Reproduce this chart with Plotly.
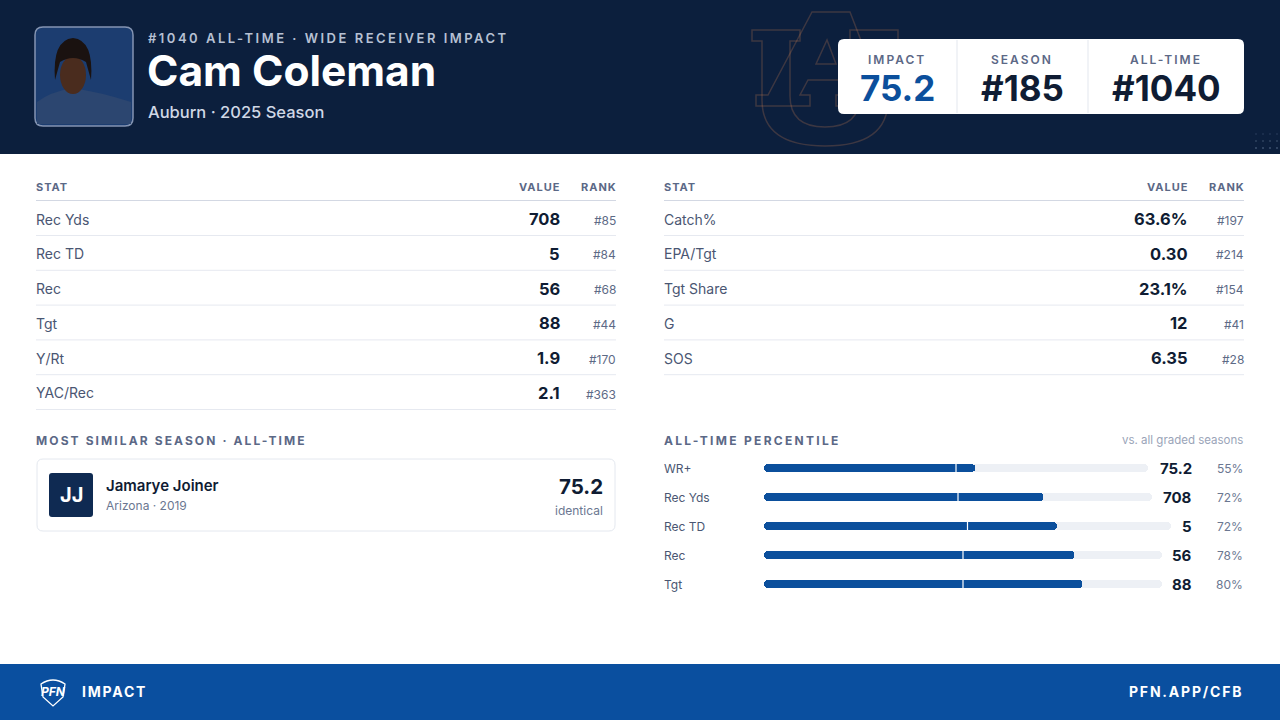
import plotly.graph_objects as go

# ---------------- data ----------------
player_name = "Cam Coleman"
eyebrow = "#1040 ALL-TIME · WIDE RECEIVER IMPACT"
subtitle = "Auburn · 2025 Season"
score_labels = ["IMPACT", "SEASON", "ALL-TIME"]
score_values = ["75.2", "#185", "#1040"]

left_stats = ["Rec Yds", "Rec TD", "Rec", "Tgt", "Y/Rt", "YAC/Rec"]
left_vals = ["708", "5", "56", "88", "1.9", "2.1"]
left_ranks = [85, 84, 68, 44, 170, 363]

right_stats = ["Catch%", "EPA/Tgt", "Tgt Share", "G", "SOS"]
right_vals = ["63.6%", "0.30", "23.1%", "12", "6.35"]
right_ranks = [197, 214, 154, 41, 28]

similar_name = "Jamarye Joiner"
similar_initials = "JJ"
similar_meta = "Arizona · 2019"
similar_score = "75.2"
similar_note = "identical"

pct_labels = ["WR+", "Rec Yds", "Rec TD", "Rec", "Tgt"]
pct_values = ["75.2", "708", "5", "56", "88"]
pct_pcts = [55, 72, 72, 78, 80]
median_pct = 50

# ---------------- style ----------------
W, H = 1280, 720
FONT = "Inter"
NAVY = "#0c1f3d"
BLUE = "#0b4f9c"
INK = "#0f1c33"
LABEL = "#5b6886"
TEXT = "#4a5672"
MUTED = "#6b7791"
LINE = "#e6e9f0"
track_len_px = [384, 388, 407, 398, 398]   # per-row track length (layout)


def px(x):
    return x / W


def py(y):
    return 1 - y / H


shapes = []
annotations = []


def rrect(x0, y0, x1, y1, r, fill, line_color=None, line_width=0, layer="below"):
    p = (f"M {px(x0+r)},{py(y0)} L {px(x1-r)},{py(y0)} Q {px(x1)},{py(y0)} {px(x1)},{py(y0+r)} "
         f"L {px(x1)},{py(y1-r)} Q {px(x1)},{py(y1)} {px(x1-r)},{py(y1)} "
         f"L {px(x0+r)},{py(y1)} Q {px(x0)},{py(y1)} {px(x0)},{py(y1-r)} "
         f"L {px(x0)},{py(y0+r)} Q {px(x0)},{py(y0)} {px(x0+r)},{py(y0)} Z")
    shapes.append(dict(type="path", xref="paper", yref="paper", path=p, fillcolor=fill,
                       line=dict(color=line_color or fill, width=line_width), layer=layer))


def rect(x0, y0, x1, y1, fill, layer="below"):
    shapes.append(dict(type="rect", xref="paper", yref="paper", x0=px(x0), x1=px(x1),
                       y0=py(y1), y1=py(y0), fillcolor=fill, line=dict(width=0), layer=layer))


def hline(x0, x1, y, color, width=1):
    shapes.append(dict(type="line", xref="paper", yref="paper", x0=px(x0), x1=px(x1),
                       y0=py(y), y1=py(y), line=dict(color=color, width=width), layer="below"))


def vline(x, y0, y1, color, width=1):
    shapes.append(dict(type="line", xref="paper", yref="paper", x0=px(x), x1=px(x),
                       y0=py(y0), y1=py(y1), line=dict(color=color, width=width), layer="above"))


def pathpx(cmds, color, width=1.5, fill=None):
    out = []
    for c in cmds:
        if c[0] == "Z":
            out.append("Z")
        elif c[0] == "Q":
            out.append(f"Q {px(c[1])},{py(c[2])} {px(c[3])},{py(c[4])}")
        else:
            out.append(f"{c[0]} {px(c[1])},{py(c[2])}")
    shapes.append(dict(type="path", xref="paper", yref="paper", path=" ".join(out),
                       fillcolor=fill or "rgba(0,0,0,0)", line=dict(color=color, width=width),
                       layer="below"))


def text(x, y, s, size, color, weight=400, anchor="left", spacing=None, family=FONT):
    if spacing:
        s = f'<span style="letter-spacing:{spacing}px">{s}</span>'
    annotations.append(dict(x=px(x), y=py(y), xref="paper", yref="paper", text=s,
                            showarrow=False, xanchor=anchor, yanchor="middle",
                            borderpad=0, borderwidth=0,
                            font=dict(family=family, size=size, color=color, weight=weight)))


# ---------------- header ----------------
rect(0, 0, W, 154, NAVY)

# faint Auburn AU watermark
wm = "rgba(200,125,80,0.26)"
pathpx([("M", 752, 30), ("L", 800, 30), ("L", 800, 41), ("L", 790, 41), ("L", 790, 96),
        ("Q", 790, 127, 825, 127), ("Q", 860, 127, 860, 96), ("L", 860, 41), ("L", 850, 41),
        ("L", 850, 30), ("L", 898, 30), ("L", 898, 41), ("L", 888, 41), ("L", 888, 100),
        ("Q", 888, 146, 825, 146), ("Q", 762, 146, 762, 100), ("L", 762, 41), ("L", 752, 41),
        ("Z",)], wm, 1.5)
pathpx([("M", 756, 106), ("L", 756, 95), ("L", 768, 95), ("L", 812, 12), ("L", 850, 12),
        ("L", 882, 95), ("L", 894, 95), ("L", 894, 106), ("L", 836, 106), ("L", 836, 95),
        ("L", 846, 95), ("L", 840, 80), ("L", 808, 80), ("L", 800, 95), ("L", 810, 95),
        ("L", 810, 106), ("Z",)], wm, 1.5)
pathpx([("M", 816, 64), ("L", 836, 64), ("L", 827, 40), ("Z",)], wm, 1.5)

# dotted texture bottom right
for i, yy in enumerate([134, 141, 148]):
    for xx in range(1256, 1281, 7):
        a = 0.15 + 0.1 * i
        shapes.append(dict(type="circle", xref="paper", yref="paper",
                           x0=px(xx - 1), x1=px(xx + 1), y0=py(yy + 1), y1=py(yy - 1),
                           fillcolor=f"rgba(150,170,200,{a})", line=dict(width=0), layer="above"))

# photo placeholder
rrect(35, 27, 133, 126, 8, "#1c3d70", "#8494b2", 1.5)
shapes.append(dict(type="path", xref="paper", yref="paper",
                   path=(f"M {px(37)},{py(124)} L {px(37)},{py(102)} Q {px(50)},{py(92)} {px(72)},{py(88)} "
                         f"Q {px(100)},{py(92)} {px(131)},{py(102)} L {px(131)},{py(124)} Z"),
                   fillcolor="#2c4670", line=dict(width=0), layer="below"))
shapes.append(dict(type="circle", xref="paper", yref="paper", x0=px(60), x1=px(86),
                   y0=py(94), y1=py(56), fillcolor="#4a2c1e", line=dict(width=0), layer="below"))
shapes.append(dict(type="path", xref="paper", yref="paper",
                   path=(f"M {px(55)},{py(80)} Q {px(52)},{py(40)} {px(73)},{py(38)} "
                         f"Q {px(94)},{py(40)} {px(91)},{py(80)} L {px(86)},{py(62)} "
                         f"Q {px(73)},{py(54)} {px(60)},{py(62)} Z"),
                   fillcolor="#1a1210", line=dict(width=0), layer="below"))

text(148, 38, eyebrow, 13, "#b7c1d4", 600, spacing=2.5)
text(147, 71, player_name, 42.5, "#ffffff", 700)
text(148, 112, subtitle, 16.5, "#d0d8e6", 500)

# score card
rrect(838, 39, 1244, 114, 6, "#ffffff")
vline(957, 40, 113, "#e3e7ee")
vline(1088, 40, 113, "#e3e7ee")
score_centers = [897, 1022, 1166]
for cx, lab, val, col in zip(score_centers, score_labels, score_values, [BLUE, INK, INK]):
    text(cx, 59, lab, 12, "#5c6886", 600, anchor="center", spacing=2)
    text(cx, 88, val, 35, col, 700, anchor="center")

# ---------------- stat tables ----------------
def table(x0, x_val, x_rank, stats, vals, ranks):
    text(x0, 187, "STAT", 11, LABEL, 700, spacing=1)
    text(x_val + 1, 187, "VALUE", 11, LABEL, 700, anchor="right", spacing=1)
    text(x_rank + 1, 187, "RANK", 11, LABEL, 700, anchor="right", spacing=1)
    hline(x0, x_rank, 200.5, "#d3d8e3", 1.2)
    for i, (s, v, r) in enumerate(zip(stats, vals, ranks)):
        yc = 219 + 34.8 * i
        text(x0, yc, s, 14, TEXT, 400)
        text(x_val, yc, v, 16.5, INK, 700, anchor="right")
        text(x_rank, yc + 1, f"#{r}", 12, "#5d6a86", 400, anchor="right")
        hline(x0, x_rank, yc + 16.5, LINE, 1)


table(36, 560, 616, left_stats, left_vals, left_ranks)
table(664, 1188, 1244, right_stats, right_vals, right_ranks)

# ---------------- most similar ----------------
text(36, 440, "MOST SIMILAR SEASON · ALL-TIME", 12, LABEL, 700, spacing=2.1)
rrect(37, 459, 615, 531, 6, "#ffffff", "#e4e8ef", 1)
rrect(49, 473, 93, 517, 3, "#0f2a52")
text(71, 495, similar_initials, 20, "#ffffff", 700, anchor="center")
text(106, 485, similar_name, 15, INK, 600)
text(106, 506, similar_meta, 12, MUTED, 400)
text(603, 486, similar_score, 20.5, INK, 700, anchor="right")
text(603, 510, similar_note, 12, MUTED, 400, anchor="right")

# ---------------- percentile ----------------
text(664, 440, "ALL-TIME PERCENTILE", 12, LABEL, 700, spacing=2.3)
text(1243, 440, "vs. all graded seasons", 11.5, "#9aa4b8", 400, anchor="right")
for i, (lab, val, p) in enumerate(zip(pct_labels, pct_values, pct_pcts)):
    yc = 468 + 29 * i
    text(664, yc, lab, 12, TEXT, 400)
    text(1192, yc, val, 15, INK, 700, anchor="right")
    text(1243, yc, f"{p}%", 12, MUTED, 400, anchor="right")

fill_len = [t * p / 100 for t, p in zip(track_len_px, pct_pcts)]
median_x = [t * median_pct / 100 for t in track_len_px]

fig = go.Figure()
fig.add_trace(go.Bar(y=pct_labels, x=track_len_px, base=0, orientation="h", width=0.28,
                     marker=dict(color="#edf0f5", cornerradius=4, line=dict(width=0)),
                     hoverinfo="skip", showlegend=False))
fig.add_trace(go.Bar(y=pct_labels, x=fill_len, base=0, orientation="h", width=0.28,
                     marker=dict(color=BLUE, cornerradius=4, line=dict(width=0)),
                     hoverinfo="skip", showlegend=False))
fig.add_trace(go.Scatter(y=pct_labels, x=median_x, mode="markers",
                         marker=dict(symbol="line-ns", size=8, line=dict(color="#ffffff", width=1.2)),
                         hoverinfo="skip", showlegend=False))

# ---------------- footer ----------------
rect(0, 664, W, 720, "#0a4f9f")
pathpx([("M", 41, 684), ("Q", 53, 676, 65, 684), ("L", 63, 697), ("L", 53, 706), ("L", 43, 697), ("Z",)],
       "#ffffff", 1.3)
text(53, 691, "<i><b>PFN</b></i>", 12, "#ffffff", 800, anchor="center")
text(82, 691, "IMPACT", 14, "#ffffff", 700, spacing=1.8)
text(1243, 691, "PFN.APP/CFB", 14, "#ffffff", 700, anchor="right", spacing=1.8)

fig.update_layout(
    width=W, height=H, margin=dict(l=0, r=0, t=0, b=0),
    paper_bgcolor="#ffffff", plot_bgcolor="rgba(0,0,0,0)",
    barmode="overlay", bargap=0, showlegend=False, hovermode=False,
    font=dict(family=FONT),
    xaxis=dict(domain=[px(764), px(1244)], range=[0, 480], visible=False, fixedrange=True),
    yaxis=dict(domain=[py(598.5), py(453.5)], type="category", range=[4.5, -0.5],
               visible=False, fixedrange=True),
    shapes=shapes, annotations=annotations,
)

fig.write_html("out.html", config={"displayModeBar": False, "staticPlot": True},
               post_script="document.body.style.margin='0';document.body.style.overflow='hidden';")
